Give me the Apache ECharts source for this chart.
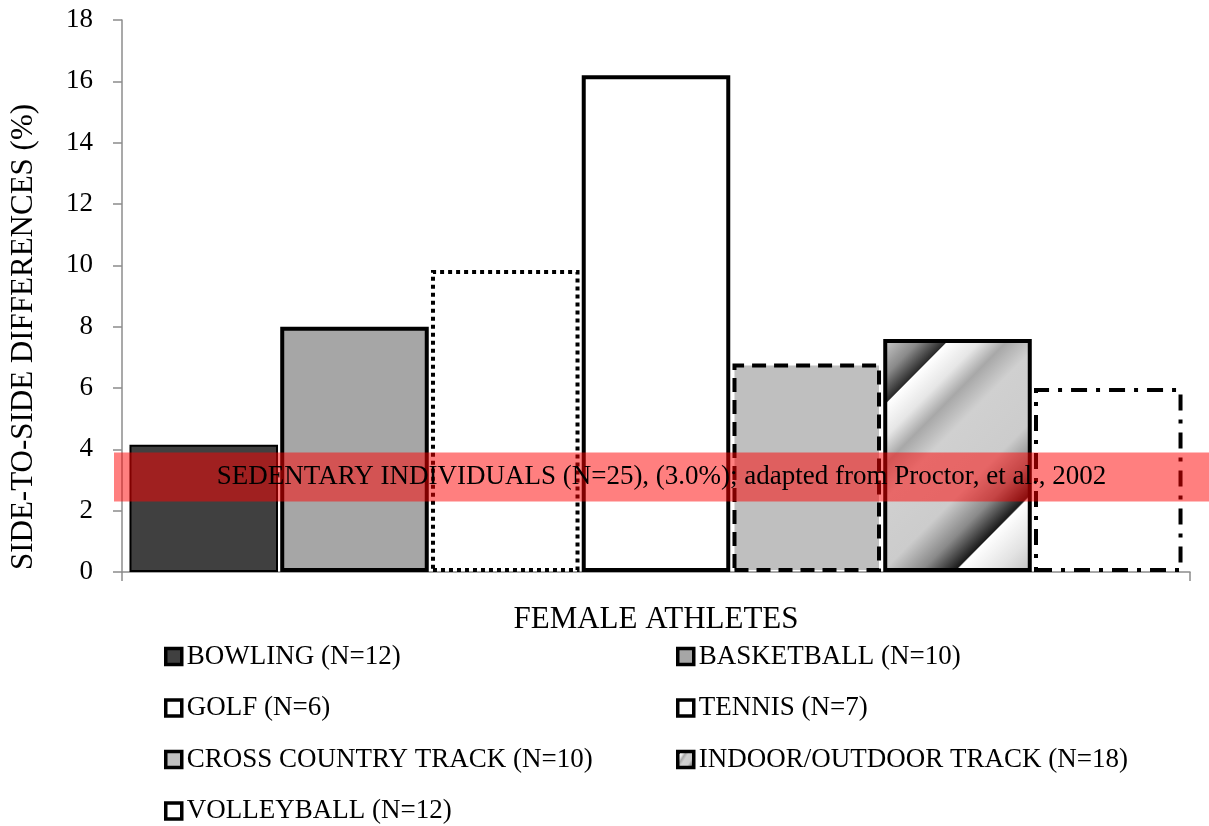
<!DOCTYPE html>
<html>
<head>
<meta charset="utf-8">
<script src="https://cdn.jsdelivr.net/npm/echarts@6/dist/echarts.min.js"></script>
<style>html,body{margin:0;padding:0;background:#fff}#c{width:1209px;height:826px}</style>
</head>
<body>
<div id="c"></div>
<script>
const categories = ['FEMALE ATHLETES'];
const seriesNames = ['BOWLING (N=12)', 'BASKETBALL (N=10)', 'GOLF (N=6)', 'TENNIS (N=7)',
  'CROSS COUNTRY TRACK (N=10)', 'INDOOR/OUTDOOR TRACK (N=18)', 'VOLLEYBALL (N=12)'];
const bowling = [4.15];
const basketball = [8.0];
const golf = [9.85];
const tennis = [16.2];
const crossCountry = [6.8];
const indoorOutdoor = [7.6];
const volleyball = [6.0];
const yTicks = { min: 0, max: 18, interval: 2 };
const bandLow = 2.3, bandHigh = 3.9;
const bandLabel = 'SEDENTARY INDIVIDUALS (N=25), (3.0%); adapted from Proctor, et al., 2002';

const FONT = '"Liberation Serif", "Times New Roman", serif';
const stripe = {
  type: 'linear', x: 0, y: 0, x2: 1.3, y2: 0.82,
  colorStops: [
    { offset: 0, color: '#d0d0d0' }, { offset: 0.1, color: '#8a8a8a' }, { offset: 0.172, color: '#2a2a2a' },
    { offset: 0.176, color: '#ffffff' }, { offset: 0.26, color: '#e6e6e6' },
    { offset: 0.33, color: '#a8a8a8' }, { offset: 0.42, color: '#d0d0d0' },
    { offset: 0.6, color: '#cccccc' }, { offset: 0.7, color: '#8a8a8a' },
    { offset: 0.787, color: '#1a1a1a' }, { offset: 0.792, color: '#ffffff' },
    { offset: 0.9, color: '#e2e2e2' }, { offset: 1, color: '#bdbdbd' }
  ]
};
const styles = [
  { color: '#404040', borderColor: '#000', borderWidth: 2 },
  { color: '#a6a6a6', borderColor: '#000', borderWidth: 4 },
  { color: '#ffffff', borderColor: '#000', borderWidth: 4, borderType: [4, 4] },
  { color: '#ffffff', borderColor: '#000', borderWidth: 4 },
  { color: '#bfbfbf', borderColor: '#000', borderWidth: 4, borderType: [14, 8] },
  { color: stripe, borderColor: '#000', borderWidth: 4 },
  { color: '#ffffff', borderColor: '#000', borderWidth: 4, borderType: [16, 9, 4, 9] }
];
const values = [bowling, basketball, golf, tennis, crossCountry, indoorOutdoor, volleyball];

const chart = echarts.init(document.getElementById('c'), null, { renderer: 'canvas' });
const legendText = { fontFamily: FONT, fontSize: 27, color: '#000', lineHeight: 27 };
const legendCommon = { orient: 'vertical', top: 643, itemWidth: 16, itemHeight: 16, itemGap: 24.5,
  textStyle: legendText, icon: 'rect', padding: 0, itemStyle: { borderWidth: 3.5 } };
const option = {
  backgroundColor: '#fff',
  animation: false,
  grid: { left: 121, right: 19, top: 20, bottom: 254, containLabel: false },
  legend: [
    Object.assign({ data: [seriesNames[0], seriesNames[2], seriesNames[4], seriesNames[6]], left: 164 }, legendCommon),
    Object.assign({ data: [seriesNames[1], seriesNames[3], seriesNames[5]], left: 676 }, legendCommon)
  ],
  xAxis: {
    type: 'category', data: categories,
    axisLabel: { show: false },
    axisLine: { show: true, lineStyle: { color: '#8c8c8c', width: 1.5 } },
    axisTick: { show: true, length: 9, lineStyle: { color: '#8c8c8c', width: 1.5 } },
    name: categories[0], nameLocation: 'middle', nameGap: 32,
    nameTextStyle: { fontFamily: FONT, fontSize: 31, color: '#000' }
  },
  yAxis: {
    type: 'value', min: yTicks.min, max: yTicks.max, interval: yTicks.interval,
    splitLine: { show: false },
    axisLine: { show: true, lineStyle: { color: '#8c8c8c', width: 1.5 } },
    axisTick: { show: true, length: 9, lineStyle: { color: '#8c8c8c', width: 1.5 } },
    axisLabel: { fontFamily: FONT, fontSize: 27, color: '#000', margin: 29 },
    name: 'SIDE-TO-SIDE DIFFERENCES (%)', nameLocation: 'middle', nameRotate: 90, nameGap: 83,
    nameTextStyle: { fontFamily: FONT, fontSize: 31, color: '#000', padding: [0, 82, 0, 0] }
  },
  series: seriesNames.map((n, i) => ({
    name: n, type: 'bar', data: values[i],
    barGap: '1.5%', barCategoryGap: '1.4%',
    itemStyle: styles[i]
  }))
};
chart.setOption(option);
const yTop = chart.convertToPixel({ yAxisIndex: 0 }, bandHigh);
const yBot = chart.convertToPixel({ yAxisIndex: 0 }, bandLow);
chart.setOption({
  graphic: [
    { type: 'rect', z: 100, shape: { x: 114, y: yTop, width: 1209 - 114, height: yBot - yTop },
      style: { fill: 'rgba(255,0,0,0.5)' } },
    { type: 'text', z: 101, x: (114 + 1209) / 2, y: (yTop + yBot) / 2,
      style: { text: bandLabel, fill: '#000', font: '27px ' + FONT, align: 'center', verticalAlign: 'middle' } }
  ]
});
</script>
</body>
</html>
